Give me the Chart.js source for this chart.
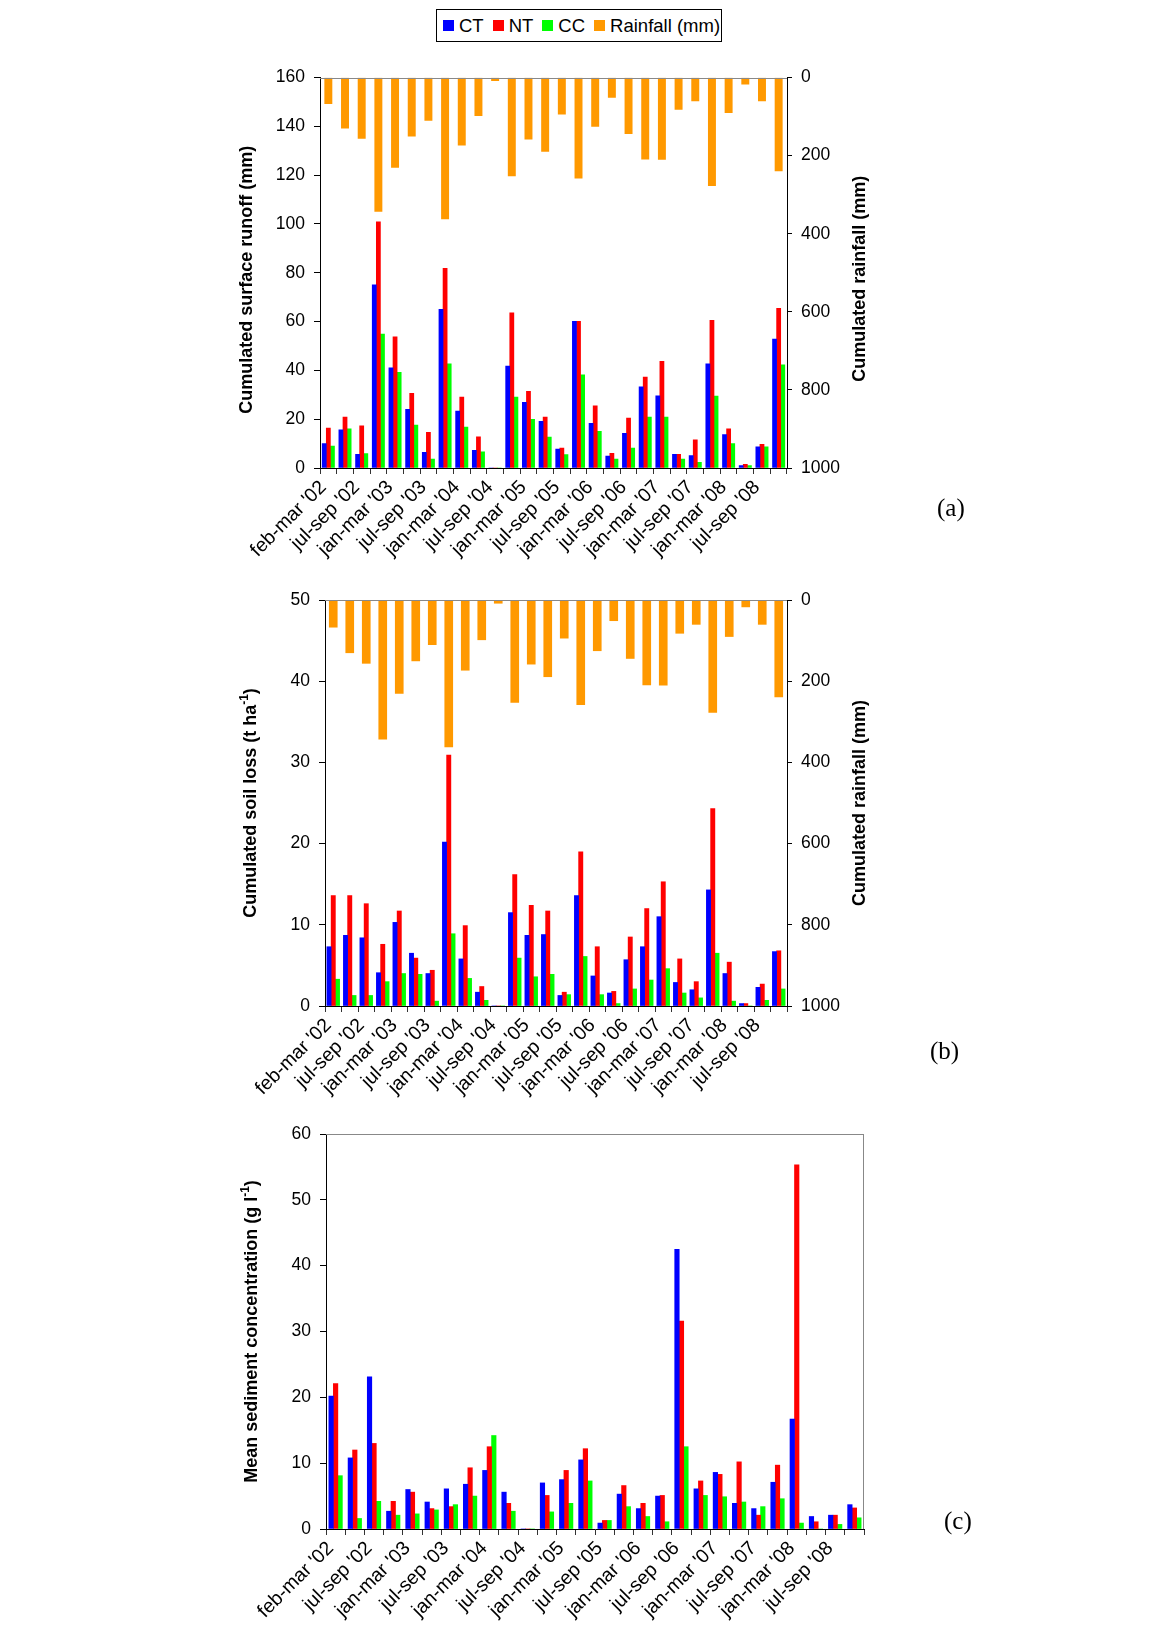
<!DOCTYPE html>
<html>
<head>
<meta charset="utf-8">
<script src="https://cdn.jsdelivr.net/npm/chart.js@4.4.1/dist/chart.umd.min.js"></script>
<style>
  body { margin: 0; background: #fff; }
  #page { position: relative; width: 1151px; height: 1629px; overflow: hidden; background: #fff;
          font-family: 'Liberation Sans', Arial, sans-serif; }
  canvas { position: absolute; left: 0; }
  #legend { position: absolute; left: 436px; top: 9px; width: 286px; height: 33px; box-sizing: border-box;
            border: 1px solid #000; display: flex; align-items: center; padding-left: 6px;
            font-size: 18.5px; color: #000; white-space: nowrap; }
  .it { display: flex; align-items: center; margin-right: 9px; }
  .sw { display: inline-block; width: 11px; height: 11px; margin-right: 5px; }
  .pl { position: absolute; font-family: 'Liberation Serif', 'DejaVu Serif', serif; font-size: 25px; color: #000; line-height: 28px; }
</style>
</head>
<body>
<div id="page">
  <div id="legend"></div>
  <canvas id="cA"></canvas>
  <canvas id="cB"></canvas>
  <canvas id="cC"></canvas>
  <div class="pl" style="left:937px;top:494px;">(a)</div>
  <div class="pl" style="left:930px;top:1037px;">(b)</div>
  <div class="pl" style="left:944px;top:1507px;">(c)</div>
</div>
<script>
// ---------------- DATA ----------------
const categories = [
  "feb-mar '02", "apr-jun '02", "jul-sep '02", "oct-dec '02",
  "jan-mar '03", "apr-jun '03", "jul-sep '03", "oct-dec '03",
  "jan-mar '04", "apr-jun '04", "jul-sep '04", "oct-dec '04",
  "jan-mar '05", "apr-jun '05", "jul-sep '05", "oct-dec '05",
  "jan-mar '06", "apr-jun '06", "jul-sep '06", "oct-dec '06",
  "jan-mar '07", "apr-jun '07", "jul-sep '07", "oct-dec '07",
  "jan-mar '08", "apr-jun '08", "jul-sep '08", "oct-dec '08"
];
const seriesNames = ["CT", "NT", "CC"];
const rainfallName = "Rainfall (mm)";

const rainfall = [67, 130, 156, 343, 230, 150, 110, 362, 173, 98, 8, 252, 158, 189,
                  94, 258, 125, 51, 144, 209, 210, 82, 60, 277, 90, 17, 60, 239];

const runoffCT = [10.0, 15.6, 5.6, 75.0, 41.0, 24.0, 6.4, 65.0, 23.3, 7.2, 0, 41.8, 26.9, 19.1,
                  7.8, 60.1, 18.3, 4.9, 14.2, 33.3, 29.6, 5.6, 5.1, 42.7, 13.7, 1.0, 8.7, 52.8];
const runoffNT = [16.4, 20.9, 17.3, 100.9, 53.7, 30.6, 14.6, 81.8, 29.1, 12.8, 0, 63.6, 31.4, 20.9,
                  8.2, 60.1, 25.5, 6.0, 20.5, 37.3, 43.7, 5.6, 11.5, 60.5, 16.0, 1.5, 9.7, 65.4];
const runoffCC = [9.0, 16.0, 5.9, 54.9, 39.2, 17.6, 3.7, 42.7, 16.8, 6.6, 0, 29.1, 19.9, 12.7,
                  5.5, 38.2, 15.0, 3.7, 8.2, 20.9, 20.9, 3.7, 2.3, 29.5, 10.0, 1.0, 8.7, 42.3];

const soilCT = [7.3, 8.7, 8.4, 4.1, 10.3, 6.5, 4.0, 20.2, 5.8, 1.7, 0, 11.5, 8.7, 8.8,
                1.3, 13.6, 3.7, 1.6, 5.7, 7.3, 11.0, 2.9, 2.0, 14.3, 4.0, 0.3, 2.3, 6.7];
const soilNT = [13.6, 13.6, 12.6, 7.6, 11.7, 5.9, 4.4, 30.9, 9.9, 2.4, 0, 16.2, 12.4, 11.7,
                1.7, 19.0, 7.3, 1.8, 8.5, 12.0, 15.3, 5.8, 3.0, 24.3, 5.4, 0.3, 2.7, 6.8];
const soilCC = [3.3, 1.3, 1.3, 3.0, 4.0, 3.9, 0.6, 8.9, 3.4, 0.7, 0, 5.9, 3.6, 3.9,
                1.4, 6.1, 1.4, 0.3, 2.1, 3.2, 4.6, 1.6, 1.0, 6.5, 0.6, 0, 0.7, 2.1];

const sedCT = [20.2, 10.8, 23.1, 2.7, 6.0, 4.1, 6.1, 6.8, 8.9, 5.6, 0, 7.0, 7.5, 10.5,
               0.9, 5.3, 3.1, 5.0, 42.5, 6.1, 8.6, 3.9, 3.1, 7.1, 16.7, 1.9, 2.1, 3.7];
const sedNT = [22.1, 12.0, 13.0, 4.2, 5.6, 3.1, 3.4, 9.3, 12.5, 3.9, 0, 5.1, 8.9, 12.2,
               1.3, 6.6, 3.9, 5.1, 31.6, 7.3, 8.3, 10.2, 2.1, 9.7, 55.3, 1.1, 2.1, 3.2];
const sedCC = [8.1, 1.6, 4.2, 2.1, 2.3, 2.9, 3.7, 5.0, 14.2, 2.7, 0, 2.6, 3.9, 7.3,
               1.3, 3.4, 1.9, 1.1, 12.5, 5.1, 4.9, 4.1, 3.4, 4.6, 0.9, 0, 0.7, 1.7];

const titleRunoff = [{ text: "Cumulated surface runoff (mm)" }];
const titleSoil = [{ text: "Cumulated soil loss (t ha" }, { text: "-1", sup: true }, { text: ")" }];
const titleSed = [{ text: "Mean sediment concentration (g l" }, { text: "-1", sup: true }, { text: ")" }];
const titleRain = [{ text: "Cumulated rainfall (mm)" }];

// ---------------- STYLE ----------------
const seriesColors = ["#0000FF", "#FF0000", "#00FF00"];
const rainColor = "#FF9900";
const FONT = "'Liberation Sans', Arial, sans-serif";

// legend (HTML)
const lg = document.getElementById('legend');
seriesNames.concat([rainfallName]).forEach((n, i) => {
  const it = document.createElement('span'); it.className = 'it';
  const sw = document.createElement('span'); sw.className = 'sw';
  sw.style.background = i < 3 ? seriesColors[i] : rainColor;
  it.appendChild(sw); it.appendChild(document.createTextNode(n));
  lg.appendChild(it);
});

function drawVTitle(ctx, x, y, parts) {
  const main = 'bold 18px ' + FONT;
  const small = 'bold 12px ' + FONT;
  let total = 0;
  const widths = parts.map(p => { ctx.font = p.sup ? small : main; const w = ctx.measureText(p.text).width; total += w; return w; });
  ctx.save();
  ctx.translate(x, y); ctx.rotate(-Math.PI / 2);
  ctx.fillStyle = '#000'; ctx.textBaseline = 'middle'; ctx.textAlign = 'left';
  let cx = -total / 2;
  parts.forEach((p, i) => { ctx.font = p.sup ? small : main; ctx.fillText(p.text, cx, p.sup ? -6 : 0); cx += widths[i]; });
  ctx.restore();
}

const extrasPlugin = {
  id: 'extras',
  afterDraw(chart, args, o) {
    const ctx = chart.ctx, a = chart.chartArea;
    ctx.save();
    ctx.lineWidth = 1;
    if (o.topLine) {
      ctx.strokeStyle = o.topLine; ctx.beginPath();
      ctx.moveTo(a.left, Math.round(a.top) + 0.5); ctx.lineTo(a.right, Math.round(a.top) + 0.5); ctx.stroke();
    }
    if (o.rightLine) {
      ctx.strokeStyle = o.rightLine; ctx.beginPath();
      ctx.moveTo(Math.round(a.right) - 0.5, a.top); ctx.lineTo(Math.round(a.right) - 0.5, a.bottom); ctx.stroke();
    }
    (o.titles || []).forEach(t => {
      const x = t.side === 'left' ? a.left - t.offset : a.right + t.offset;
      const y = (a.top + a.bottom) / 2 + (t.dy || 0);
      drawVTitle(ctx, x, y, t.parts);
    });
    ctx.restore();
  }
};

function panel(id, top, height, p) {
  const cv = document.getElementById(id);
  cv.width = 1151; cv.height = height; cv.style.top = top + 'px';
  const datasets = seriesNames.map((n, k) => ({
    label: n, data: p.values[k], backgroundColor: seriesColors[k], borderWidth: 0,
    xAxisID: 'x', yAxisID: 'y', barThickness: p.barW, grouped: true
  }));
  if (p.rain) {
    // rainfall hangs from the top on its own reversed axis, centred in each category
    datasets.push({ label: rainfallName, data: p.rain, backgroundColor: rainColor, borderWidth: 0,
      xAxisID: 'x', yAxisID: 'y2', grouped: false, categoryPercentage: 1, barPercentage: 1,
      maxBarThickness: p.rainW });
  }
  const scales = {
    x: {
      type: 'category', labels: categories, offset: true, position: 'bottom',
      grid: { display: true, offset: true, drawOnChartArea: false, drawTicks: true, tickLength: 6, color: '#333' },
      border: { display: true, color: '#000', width: 1 },
      ticks: { autoSkip: false, maxRotation: 45, minRotation: 45, padding: 2, labelOffset: -5, color: '#000',
               font: { family: FONT, size: 19.5 },
               callback: (v, i) => (i % 2 === 0 ? categories[i] : '') },
      afterFit: s => { s.height = p.xHeight; }
    },
    y: {
      type: 'linear', position: 'left', min: 0, max: p.yMax,
      ticks: { stepSize: p.yStep, padding: 9, color: '#000', font: { family: FONT, size: 17.5 },
               callback: v => String(v) },
      grid: { display: true, drawOnChartArea: false, drawTicks: true, tickLength: 6, color: '#000' },
      border: { display: true, color: '#000', width: 1 },
      afterFit: s => { s.width = p.yWidth; }
    }
  };
  if (p.rain) {
    scales.y2 = {
      type: 'linear', position: 'right', reverse: true, min: 0, max: 1000,
      ticks: { stepSize: 200, padding: 9, color: '#000', font: { family: FONT, size: 17.5 },
               callback: v => String(v) },
      grid: { display: true, drawOnChartArea: false, drawTicks: true, tickLength: 5, color: '#000' },
      border: { display: true, color: '#000', width: 1 },
      afterFit: s => { s.width = p.y2Width; }
    };
  }
  new Chart(cv, {
    type: 'bar',
    data: { labels: categories, datasets },
    options: {
      responsive: false, animation: false, devicePixelRatio: 1,
      layout: { padding: p.padding },
      scales,
      plugins: { legend: { display: false }, tooltip: { enabled: false }, extras: p.extras }
    },
    plugins: [extrasPlugin]
  });
}

// (a) runoff
panel('cA', 0, 560, {
  values: [runoffCT, runoffNT, runoffCC], rain: rainfall,
  barW: 4.1, rainW: 7.3,
  yMax: 160, yStep: 20,
  padding: { left: 233, right: 279, top: 77.5, bottom: 0 },
  yWidth: 87, y2Width: 85, xHeight: 92,
  extras: { topLine: '#888', titles: [
    { side: 'left', offset: 73, dy: 7, parts: titleRunoff },
    { side: 'right', offset: 73, dy: 6, parts: titleRain } ] }
});

// (b) soil loss
panel('cB', 560, 550, {
  values: [soilCT, soilNT, soilCC], rain: rainfall,
  barW: 4.25, rainW: 8,
  yMax: 50, yStep: 10,
  padding: { left: 233, right: 279, top: 40, bottom: 0 },
  yWidth: 92, y2Width: 85, xHeight: 104,
  extras: { topLine: '#888', titles: [
    { side: 'left', offset: 74, parts: titleSoil },
    { side: 'right', offset: 73, parts: titleRain } ] }
});

// (c) sediment concentration
panel('cC', 1110, 519, {
  values: [sedCT, sedNT, sedCC], rain: null,
  barW: 4.5,
  yMax: 60, yStep: 10,
  padding: { left: 226, right: 287, top: 24, bottom: 0 },
  yWidth: 100, xHeight: 100,
  extras: { topLine: '#888', rightLine: '#888', titles: [
    { side: 'left', offset: 74, parts: titleSed } ] }
});
</script>
</body>
</html>
